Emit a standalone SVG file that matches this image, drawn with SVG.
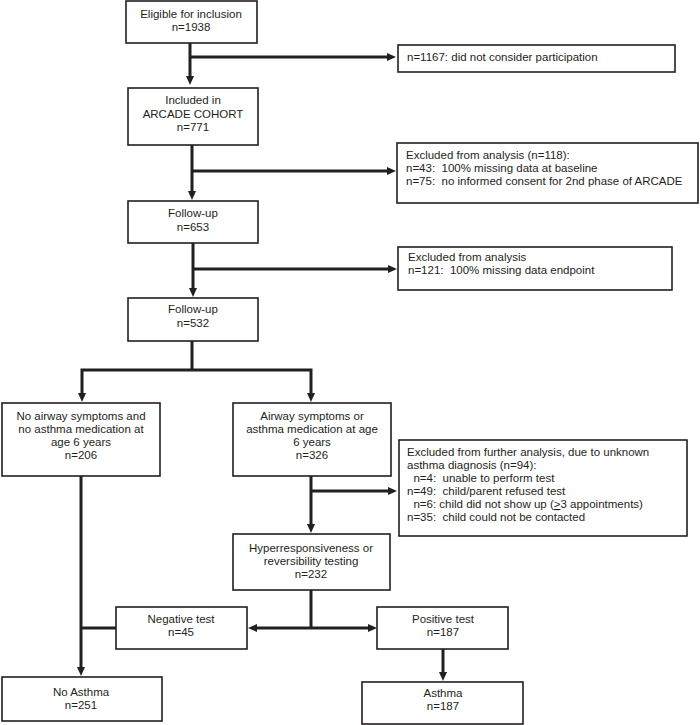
<svg xmlns="http://www.w3.org/2000/svg" width="700" height="725" viewBox="0 0 700 725">
<style>
.box{fill:#fff;stroke:#231f20;stroke-width:1.6}
.t{font-family:"Liberation Sans",Arial,sans-serif;font-size:11.5px;fill:#231f20;white-space:pre}
.c{text-anchor:middle}
.con{fill:none;stroke:#231f20;stroke-width:3;stroke-linejoin:miter}
.arr{marker-end:url(#ah)}
</style>
<defs>
<marker id="ah" viewBox="0 0 9 8" markerWidth="9" markerHeight="8" refX="2" refY="4" orient="auto" markerUnits="userSpaceOnUse">
<path d="M0,0 L9,4 L0,8 z" fill="#231f20"/>
</marker>
</defs>
<rect width="700" height="725" fill="#fff"/>
<g id="connectors">
<path class="con arr" d="M190,43 V78"/>
<path class="con arr" d="M190,57 H389"/>
<path class="con arr" d="M192,145 V193"/>
<path class="con arr" d="M192,171 H389"/>
<path class="con arr" d="M193,243 V290"/>
<path class="con arr" d="M193,269 H390"/>
<path class="con" d="M192,341 V370"/>
<path class="con arr" d="M192,370 H82 V395"/>
<path class="con arr" d="M192,370 H311 V395"/>
<path class="con arr" d="M81,476 V669"/>
<path class="con" d="M116,628 H81"/>
<path class="con arr" d="M311,476 V526"/>
<path class="con arr" d="M311,491 H390"/>
<path class="con" d="M311,590 V628"/>
<path class="con arr" d="M311,628 H255"/>
<path class="con arr" d="M311,628 H370"/>
<path class="con arr" d="M443,649 V674"/>
</g>
<g id="eligible">
<rect class="box" x="126" y="1" width="131" height="42"/>
<text class="t c" x="191" y="18">Eligible for inclusion</text>
<text class="t c" x="191" y="31">n=1938</text>
</g>
<g id="not-consider">
<rect class="box" x="398" y="45" width="277" height="27"/>
<text class="t" x="407" y="61">n=1167: did not consider participation</text>
</g>
<g id="included">
<rect class="box" x="128" y="88" width="130" height="57"/>
<text class="t c" x="193" y="104">Included in</text>
<text class="t c" x="193" y="117.5">ARCADE COHORT</text>
<text class="t c" x="193" y="131">n=771</text>
</g>
<g id="excluded-118">
<rect class="box" x="397" y="143" width="301" height="60"/>
<text class="t" x="406" y="159">Excluded from analysis (n=118):</text>
<text class="t" x="406" y="172">n=43:  100% missing data at baseline</text>
<text class="t" x="406" y="185">n=75:  no informed consent for 2nd phase of ARCADE</text>
</g>
<g id="followup-653">
<rect class="box" x="128" y="201" width="130" height="42"/>
<text class="t c" x="193" y="217">Follow-up</text>
<text class="t c" x="193" y="231">n=653</text>
</g>
<g id="excluded-121">
<rect class="box" x="398" y="247" width="274" height="43"/>
<text class="t" x="408" y="261">Excluded from analysis</text>
<text class="t" x="408" y="274">n=121:  100% missing data endpoint</text>
</g>
<g id="followup-532">
<rect class="box" x="128" y="298" width="130" height="43"/>
<text class="t c" x="193" y="313">Follow-up</text>
<text class="t c" x="193" y="327">n=532</text>
</g>
<g id="no-symptoms">
<rect class="box" x="2" y="403" width="158" height="73"/>
<text class="t c" x="81" y="420">No airway symptoms and</text>
<text class="t c" x="81" y="433">no asthma medication at</text>
<text class="t c" x="81" y="446">age 6 years</text>
<text class="t c" x="81" y="459">n=206</text>
</g>
<g id="symptoms">
<rect class="box" x="233" y="403" width="158" height="73"/>
<text class="t c" x="312" y="420">Airway symptoms or</text>
<text class="t c" x="312" y="433">asthma medication at age</text>
<text class="t c" x="312" y="446">6 years</text>
<text class="t c" x="312" y="459">n=326</text>
</g>
<g id="excluded-94">
<rect class="box" x="399" y="440" width="288" height="96"/>
<text class="t" x="407" y="456">Excluded from further analysis, due to unknown</text>
<text class="t" x="407" y="469">asthma diagnosis (n=94):</text>
<text class="t" x="407" y="482">  n=4:  unable to perform test</text>
<text class="t" x="407" y="495">n=49:  child/parent refused test</text>
<text class="t" x="407" y="508">  n=6: child did not show up (<tspan text-decoration="underline">&gt;</tspan>3 appointments)</text>
<text class="t" x="407" y="521">n=35:  child could not be contacted</text>
</g>
<g id="testing">
<rect class="box" x="233" y="534" width="157" height="56"/>
<text class="t c" x="311" y="552">Hyperresponsiveness or</text>
<text class="t c" x="311" y="565">reversibility testing</text>
<text class="t c" x="311" y="578">n=232</text>
</g>
<g id="negative">
<rect class="box" x="116" y="607" width="131" height="42"/>
<text class="t c" x="181" y="623">Negative test</text>
<text class="t c" x="181" y="636">n=45</text>
</g>
<g id="positive">
<rect class="box" x="377" y="607" width="131" height="42"/>
<text class="t c" x="443" y="623">Positive test</text>
<text class="t c" x="443" y="636">n=187</text>
</g>
<g id="no-asthma">
<rect class="box" x="2" y="677" width="160" height="44"/>
<text class="t c" x="81" y="696">No Asthma</text>
<text class="t c" x="81" y="709">n=251</text>
</g>
<g id="asthma">
<rect class="box" x="362" y="682" width="161" height="42"/>
<text class="t c" x="443" y="697">Asthma</text>
<text class="t c" x="443" y="710">n=187</text>
</g>
</svg>
